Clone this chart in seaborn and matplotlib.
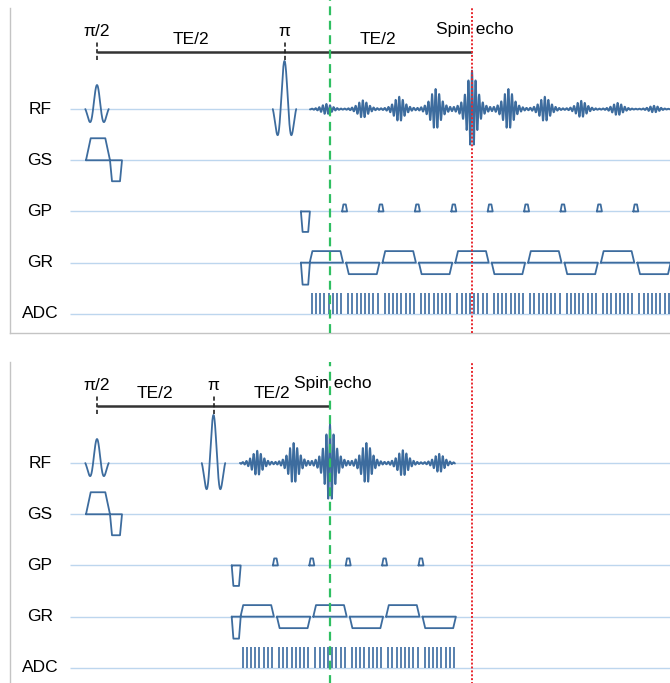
import numpy as np
import pandas as pd
import matplotlib
matplotlib.use("Agg")
import matplotlib.pyplot as plt
import seaborn as sns

# ---------------- data ----------------
rows = ["RF", "GS", "GP", "GR", "ADC"]
te_ms = [37.5, 23.3]                 # echo time of top / bottom panel
esp_ms = 3.64                        # echo spacing
echo_k_top = [-4, -3, -2, -1, 0, 1, 2, 3, 4, 5]
echo_amp_top = [0.10, 0.17, 0.24, 0.39, 0.75, 0.39, 0.24, 0.16, 0.12, 0.065]
echo_k_bottom = [-2, -1, 0, 1, 2, 3]
echo_amp_bottom = [0.24, 0.39, 0.75, 0.39, 0.25, 0.18]
acq_top = [21.3, 58.0]
acq_bottom = [14.3, 35.8]
pulse_names = ["π/2", "π"]
pulse_amp = [0.47, 0.94]
samples_per_echo = 8

# ---------------- style ----------------
sns.set_theme(style="white")
plt.rcParams["font.family"] = ["Liberation Sans", "DejaVu Sans"]
plt.rcParams["text.color"] = "black"

WAVE = "#3d6c9e"
BASE = "#bdd6ee"
SPINE = "#c4c4c4"

W, H = 670, 683
fig = plt.figure(figsize=(W / 100, H / 100), dpi=100)
XL = (-8.7, 57.3)
YL = (-4.375, 1.975)
ax_top = fig.add_axes([10 / W, 1 - 333 / H, 660 / W, 325 / H])
ax_bot = fig.add_axes([10 / W, (683 - 362 - 325) / H, 660 / W, 325 / H])


def trap(x0, x1, f0, f1, h, y0):
    return [x0, f0, f1, x1, x0], [y0, y0 + h, y0 + h, y0, y0]


def draw_panel(ax, te, ks, amps, acq, green_ext):
    echo_t = te + np.array(ks) * esp_ms
    first = echo_t[0]
    parts = []
    sid = 0

    def add(xs, ys):
        nonlocal sid
        parts.append(pd.DataFrame({"t": xs, "y": ys, "id": sid}))
        sid += 1

    # RF pulses
    u = np.linspace(-1, 1, 240)
    shape = np.cos(1.5 * np.pi * u) * np.exp(-(u / 0.8) ** 2)
    for tc, a in zip([0.0, te / 2], pulse_amp):
        add(tc + 1.17 * u, a * shape)
    # slice select + rephaser
    add(*trap(-1.1, 1.3, -0.63, 0.83, 0.43, -1))
    add(*trap(1.3, 2.5, 1.5, 2.3, -0.41, -1))
    # phase prephaser and read prephaser
    pc = first - 2.1
    add(*trap(pc - 0.45, pc + 0.45, pc - 0.28, pc + 0.28, -0.40, -2))
    add(*trap(pc - 0.45, pc + 0.45, pc - 0.28, pc + 0.28, -0.43, -3))
    # blips
    for m in echo_t[:-1] + esp_ms / 2:
        add(*trap(m - 0.25, m + 0.25, m - 0.12, m + 0.12, 0.137, -2))
    # readout lobes
    for i, e in enumerate(echo_t):
        sgn = 1 if i % 2 == 0 else -1
        add(*trap(e - 1.67, e + 1.67, e - 1.4, e + 1.4, 0.225 * sgn, -3))
    df = pd.concat(parts, ignore_index=True)

    # baselines
    ax.hlines([-i for i in range(len(rows))], -2.65, XL[1] + 2, color=BASE, lw=1.0, zorder=1)
    for i, r in enumerate(rows):
        ax.text(-5.7, -i, r, ha="center", va="center", fontsize=12.5, color="black")

    sns.lineplot(data=df, x="t", y="y", units="id", estimator=None, sort=False,
                 color=WAVE, lw=1.3, ax=ax, zorder=3)

    # echo signal
    t = np.arange(acq[0], acq[1], 0.01)
    s = np.zeros_like(t)
    for e, a in zip(echo_t, amps):
        d = t - e
        s += a * np.cos(2 * np.pi * d / 0.36) / (1 + (d / 0.9) ** 2) ** 2
    sdf = pd.DataFrame({"t": t, "y": s})
    sns.lineplot(data=sdf, x="t", y="y", sort=False, estimator=None,
                 color=WAVE, lw=1.4, ax=ax, zorder=3)

    # ADC samples
    for e in echo_t:
        xs = e + np.linspace(-1.47, 1.47, samples_per_echo)
        ax.vlines(xs, -4, -4 + 0.41, color="#4a76a8", lw=1.3, zorder=3)

    # TE annotation
    ax.plot([0, te], [1.12, 1.12], color="#333333", lw=1.8, zorder=4,
            solid_capstyle="butt")
    for tc, name in zip([0.0, te / 2], pulse_names):
        ax.plot([tc, tc], [0.96, 1.31], color="#222222", lw=1.2,
                ls=(0, (2.5, 1.5)), zorder=4)
        ax.text(tc, 1.52, name, ha="center", va="center", fontsize=12.5)
    for mid in [te / 4, 3 * te / 4]:
        ax.text(mid, 1.36, "TE/2", ha="center", va="center", fontsize=12.5)
    ax.text(te + 0.3, 1.55, "Spin echo", ha="center", va="center", fontsize=12.5)

    # reference lines
    ax.axvline(te_ms[1], ymin=0, ymax=green_ext, color="#2fbf62", lw=1.6,
               ls=(0, (4, 2.5)), zorder=6, clip_on=False)
    ax.axvline(te_ms[0], color="#e8282e", lw=1.4, ls=(0, (1, 1)), zorder=6)

    ax.set_xlim(*XL)
    ax.set_ylim(*YL)
    ax.set_xticks([])
    ax.set_yticks([])
    ax.set_xlabel("")
    ax.set_ylabel("")
    for side in ["top", "right"]:
        ax.spines[side].set_visible(False)
    for side in ["left", "bottom"]:
        ax.spines[side].set_color(SPINE)
        ax.spines[side].set_linewidth(1.0)


draw_panel(ax_top, te_ms[0], echo_k_top, echo_amp_top, acq_top, 1.025)
draw_panel(ax_bot, te_ms[1], echo_k_bottom, echo_amp_bottom, acq_bottom, 1.0)

fig.savefig("out.png", dpi=100)
